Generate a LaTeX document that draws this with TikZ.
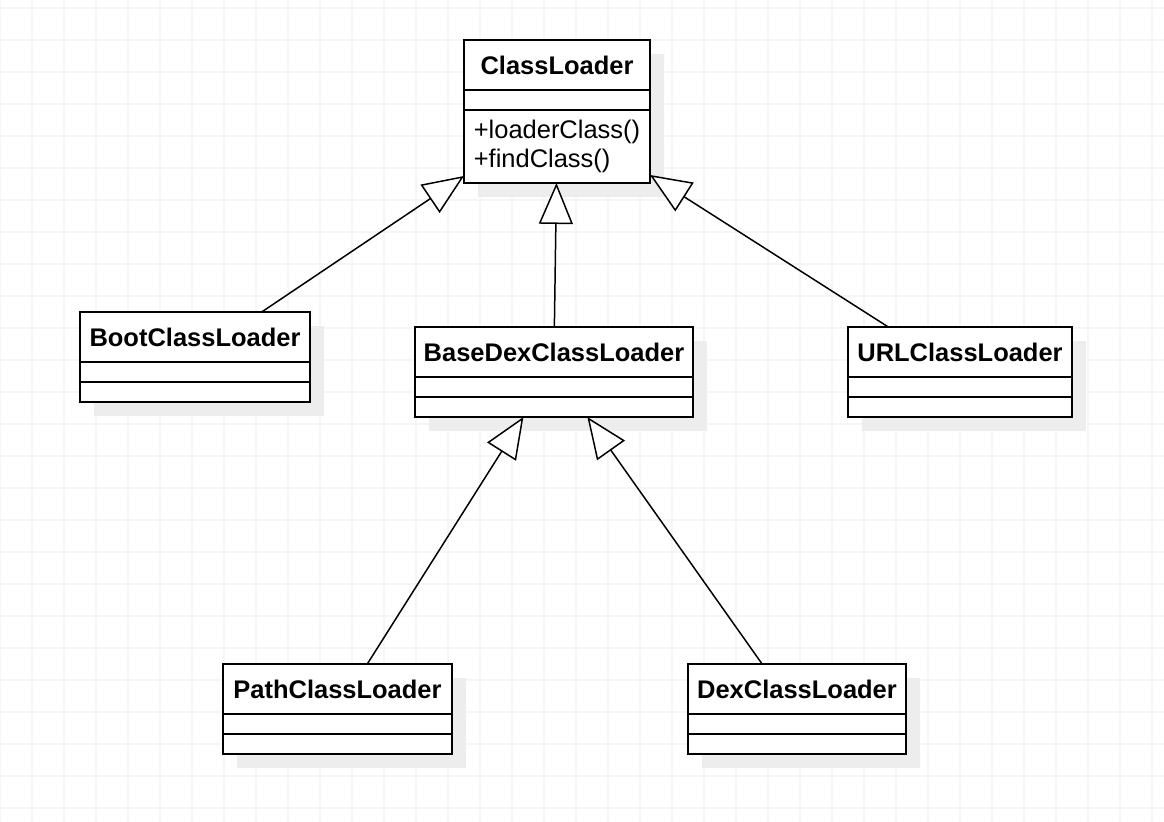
\documentclass[tikz,border=0pt]{standalone}
\usepackage{fontspec}
\setmainfont{Liberation Sans}
\usetikzlibrary{arrows.meta,positioning,calc}
\pgfdeclarelayer{background}
\pgfsetlayers{background,main}
\tikzstyle{classhead}=[draw,fill=white,line width=1.1pt,outer sep=0pt,inner sep=0pt,minimum height=1cm,font=\bfseries\fontsize{14.5}{17}\selectfont]
\tikzstyle{classpart}=[draw,fill=white,line width=1.1pt,outer sep=0pt,inner sep=0pt,minimum height=0.4cm]
\tikzstyle{methods}=[classpart,align=left,font=\fontsize{14.5}{16.5}\selectfont]
\tikzstyle{inherit}=[draw,line width=0.85pt,-{Triangle[fill=white,length=0.82cm,width=0.68cm]}]
\tikzstyle{boxshadow}=[fill=black!7]
\tikzstyle{gridline}=[draw=black!4,line width=0.6pt]

\begin{document}
\begin{tikzpicture}[x=0.02cm,y=-0.02cm]
						\useasboundingbox (0,0) rectangle (1164,822);
						% First we draw the base class
						\node[classhead, minimum width=3.72cm] (cl) at (557,65) {ClassLoader};
						\node[classpart, minimum width=3.72cm, below=0pt of cl] (cl-attr) {};
						\node[methods, minimum width=3.72cm, minimum height=1.46cm, below=0pt of cl-attr] (cl-ops) {+loaderClass()\\+findClass()};
						
						% Then the subclasses, all with empty parts
						\foreach \name/\pos/\boxw/\title in {boot/{(195,337)}/4.6cm/BootClassLoader, basedex/{(554,352)}/5.56cm/BaseDexClassLoader, url/{(960,352)}/4.48cm/URLClassLoader, path/{(337.5,689)}/4.58cm/PathClassLoader, dex/{(797,689)}/4.36cm/DexClassLoader}
						{
							\node[classhead, minimum width=\boxw] (\name) at \pos {\title};
							\node[classpart, minimum width=\boxw, below=0pt of \name] (\name-attr) {};
							\node[classpart, minimum width=\boxw, below=0pt of \name-attr] (\name-ops) {};
						}
						
						% Where the connectors start and end
						\coordinate (boot top) at ($(boot.north west)!0.79!(boot.north east)$);
						\coordinate (url top) at ($(url.north west)!0.18!(url.north east)$);
						\coordinate (path top) at ($(path.north west)!0.63!(path.north east)$);
						\coordinate (dex top) at ($(dex.north west)!0.34!(dex.north east)$);
						\coordinate (cl left) at ($(cl-ops.south west)+(0,-7)$);
						\coordinate (cl right) at ($(cl-ops.south east)+(0,-8)$);
						\coordinate (basedex left) at ($(basedex-ops.south west)!0.39!(basedex-ops.south east)$);
						\coordinate (basedex right) at ($(basedex-ops.south west)!0.62!(basedex-ops.south east)$);
						
						% Connect subclasses to their parents
						\foreach \source/ \dest in {boot top/cl left, basedex/cl-ops, url top/cl right, path top/basedex left, dex top/basedex right}
						\path[inherit] (\source) -- (\dest);
						
						\begin{pgfonlayer}{background}
							\fill[white] (0,0) rectangle (1164,822);
							\foreach \gx in {0,32,...,1164}
							\draw[gridline] (\gx,0) -- (\gx,822);
							\foreach \gy in {8,40,...,822}
							\draw[gridline] (0,\gy) -- (1164,\gy);
							\foreach \name in {cl, boot, basedex, url, path, dex}
							\fill[boxshadow] ($(\name.north west)+(14,14)$) rectangle ($(\name-ops.south east)+(14,14)$);
						\end{pgfonlayer}
					\end{tikzpicture}
\end{document}
